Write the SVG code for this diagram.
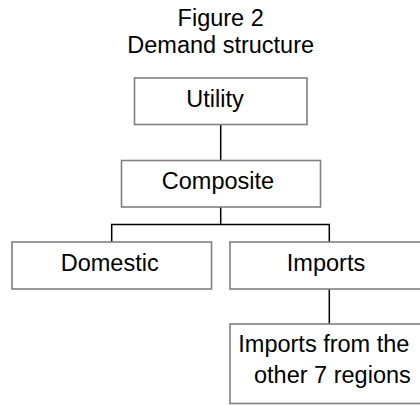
<svg xmlns="http://www.w3.org/2000/svg" width="420" height="405" viewBox="0 0 420 405">
<style>
  text { font-family: "Liberation Sans", Arial, sans-serif; font-size: 23.5px; fill: #000; }
  .box { fill: #fff; stroke: #808080; stroke-width: 1.6; }
  .conn { stroke: #000; stroke-width: 1.5; fill: none; }
  .mid { text-anchor: middle; }
</style>
<rect width="420" height="405" fill="#fff"/>
<g id="title">
  <text class="mid" x="220.7" y="26">Figure 2</text>
  <text class="mid" x="220.7" y="53">Demand structure</text>
</g>
<g id="connectors">
  <line class="conn" x1="220.7" y1="124.5" x2="220.7" y2="160.5"/>
  <polyline class="conn" points="220.7,207 220.7,224.5"/>
  <polyline class="conn" points="111.7,242 111.7,224.5 329.3,224.5 329.3,242"/>
  <line class="conn" x1="329.3" y1="289" x2="329.3" y2="324"/>
</g>
<g id="utility">
  <rect class="box" x="134.5" y="78" width="172.5" height="46.5"/>
  <text class="mid" x="215" y="107">Utility</text>
</g>
<g id="composite">
  <rect class="box" x="121.5" y="160.5" width="199" height="46.5"/>
  <text class="mid" x="218" y="188.5">Composite</text>
</g>
<g id="domestic">
  <rect class="box" x="12" y="242" width="199.5" height="47"/>
  <text class="mid" x="109.7" y="271">Domestic</text>
</g>
<g id="imports">
  <rect class="box" x="230" y="242" width="198" height="47"/>
  <text class="mid" x="326" y="271">Imports</text>
</g>
<g id="imports-other">
  <rect class="box" x="230" y="324" width="198" height="79.5"/>
  <text x="238.3" y="351.7">Imports from the</text>
  <text x="254" y="383.3">other 7 regions</text>
</g>
</svg>
